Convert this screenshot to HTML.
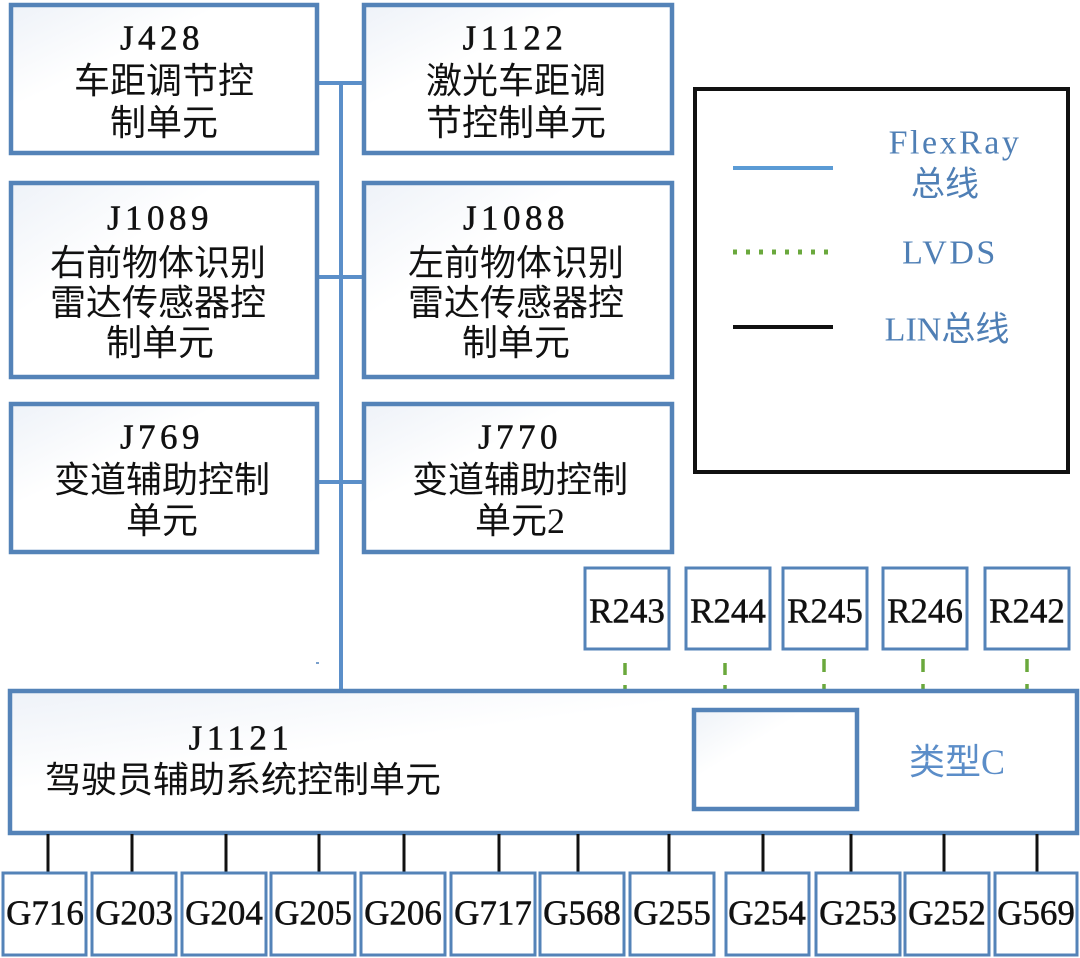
<!DOCTYPE html>
<html><head><meta charset="utf-8"><style>
html,body{margin:0;padding:0;background:#fff;}
svg{display:block;}
.t{font-family:"Liberation Serif","Noto Sans CJK SC",serif;font-size:35px;fill:#111;stroke:#111;stroke-width:0.5;text-anchor:middle;dominant-baseline:central;}
.c{font-family:"Liberation Serif","Noto Sans CJK SC",sans-serif;font-size:36px;fill:#111;text-anchor:middle;dominant-baseline:central;}
.lat{letter-spacing:4.5px;}
.b{fill:url(#g);stroke:#5483b8;stroke-width:4.5;}
.s{fill:#fff;stroke:#5483b8;stroke-width:3;}
.lg{font-family:"Liberation Serif","Noto Sans CJK SC",serif;font-size:34px;fill:#4f7fb5;text-anchor:middle;dominant-baseline:central;}
.bl{stroke:#111;stroke-width:3;}
.gr{stroke:#6aa83c;stroke-width:3.5;}
</style></head><body>
<svg width="1080" height="958" viewBox="0 0 1080 958" xmlns="http://www.w3.org/2000/svg">
<defs>
<linearGradient id="g" x1="0" y1="0" x2="1" y2="1">
<stop offset="0" stop-color="#eef2f8"/><stop offset="0.35" stop-color="#ffffff"/><stop offset="1" stop-color="#ffffff"/>
</linearGradient>
</defs>
<!-- bus -->
<g stroke="#5b8fc9" stroke-width="4">
<line x1="341" y1="83" x2="341" y2="692"/>
<line x1="317" y1="83" x2="364" y2="83"/>
<line x1="317" y1="277" x2="364" y2="277"/>
<line x1="317" y1="482" x2="364" y2="482"/>
</g>
<rect x="316" y="662" width="3" height="2" fill="#7aa0cc"/>
<!-- J boxes -->
<rect class="b" x="11" y="5" width="306" height="148"/>
<text class="t lat" x="162" y="38">J428</text>
<text class="c" x="164" y="81">车距调节控</text>
<text class="c" x="164" y="123">制单元</text>

<rect class="b" x="364" y="5" width="308" height="148"/>
<text class="t lat" x="515" y="38">J1122</text>
<text class="c" x="516" y="81">激光车距调</text>
<text class="c" x="516" y="123">节控制单元</text>

<rect class="b" x="11" y="183" width="306" height="194"/>
<text class="t lat" x="160" y="218">J1089</text>
<text class="c" x="158" y="263">右前物体识别</text>
<text class="c" x="158" y="303">雷达传感器控</text>
<text class="c" x="160" y="343">制单元</text>

<rect class="b" x="364" y="183" width="308" height="194"/>
<text class="t lat" x="516" y="218">J1088</text>
<text class="c" x="516" y="263">左前物体识别</text>
<text class="c" x="516" y="303">雷达传感器控</text>
<text class="c" x="516" y="343">制单元</text>

<rect class="b" x="11" y="404" width="306" height="148"/>
<text class="t lat" x="162" y="437">J769</text>
<text class="c" x="162" y="480">变道辅助控制</text>
<text class="c" x="162" y="521">单元</text>

<rect class="b" x="364" y="404" width="308" height="148"/>
<text class="t lat" x="520" y="437">J770</text>
<text class="c" x="520" y="480">变道辅助控制</text>
<text class="c" x="520" y="521">单元2</text>

<!-- legend -->
<rect x="695" y="89" width="373" height="383" fill="#fff" stroke="#111" stroke-width="4"/>
<line x1="733" y1="168" x2="833" y2="168" stroke="#5b9bd5" stroke-width="4"/>
<text class="lg" x="955" y="143" style="letter-spacing:2.5px">FlexRay</text>
<text class="lg" x="945" y="185">总线</text>
<line x1="733" y1="252" x2="833" y2="252" stroke="#6aa83c" stroke-width="5" stroke-dasharray="4 9"/>
<text class="lg" x="950" y="253" style="letter-spacing:2.5px">LVDS</text>
<line x1="733" y1="327" x2="833" y2="327" stroke="#111" stroke-width="4"/>
<text class="lg" x="947" y="330">LIN总线</text>

<!-- R boxes -->
<rect class="s" x="585" y="568" width="84" height="81"/><text class="t" x="627" y="611">R243</text>
<rect class="s" x="686" y="568" width="84" height="81"/><text class="t" x="728" y="611">R244</text>
<rect class="s" x="783" y="568" width="84" height="81"/><text class="t" x="825" y="611">R245</text>
<rect class="s" x="883" y="568" width="84" height="81"/><text class="t" x="925" y="611">R246</text>
<rect class="s" x="985" y="568" width="84" height="81"/><text class="t" x="1027" y="611">R242</text>

<!-- LVDS connectors -->
<g class="gr">
<line x1="625" y1="663" x2="625" y2="675"/><line x1="625" y1="685" x2="625" y2="692"/>
<line x1="725" y1="663" x2="725" y2="675"/><line x1="725" y1="685" x2="725" y2="692"/>
<line x1="824" y1="659" x2="824" y2="672"/><line x1="824" y1="684" x2="824" y2="692"/>
<line x1="923" y1="659" x2="923" y2="672"/><line x1="923" y1="684" x2="923" y2="692"/>
<line x1="1027" y1="659" x2="1027" y2="672"/><line x1="1027" y1="684" x2="1027" y2="692"/>
</g>

<!-- J1121 -->
<rect class="b" x="10" y="691" width="1067" height="142"/>
<text class="t lat" x="241" y="738">J1121</text>
<text class="c" x="243" y="780">驾驶员辅助系统控制单元</text>
<rect class="b" x="694" y="710" width="163" height="99"/>
<text class="lg" x="957" y="762" style="font-size:36px;fill:#5b8dc8">类型C</text>

<!-- LIN lines -->
<g class="bl">
<line x1="48" y1="834" x2="48" y2="873"/>
<line x1="132" y1="834" x2="132" y2="873"/>
<line x1="226" y1="834" x2="226" y2="873"/>
<line x1="319" y1="834" x2="319" y2="873"/>
<line x1="404" y1="834" x2="404" y2="873"/>
<line x1="499" y1="834" x2="499" y2="873"/>
<line x1="578" y1="834" x2="578" y2="873"/>
<line x1="669" y1="834" x2="669" y2="873"/>
<line x1="763" y1="834" x2="763" y2="873"/>
<line x1="851" y1="834" x2="851" y2="873"/>
<line x1="944" y1="834" x2="944" y2="873"/>
<line x1="1037" y1="834" x2="1037" y2="873"/>
</g>

<!-- G boxes -->
<rect class="s" x="3" y="873" width="83" height="82"/><text class="t" x="45" y="913">G716</text>
<rect class="s" x="92" y="873" width="84" height="82"/><text class="t" x="134" y="913">G203</text>
<rect class="s" x="182" y="873" width="84" height="82"/><text class="t" x="224" y="913">G204</text>
<rect class="s" x="271" y="873" width="84" height="82"/><text class="t" x="313" y="913">G205</text>
<rect class="s" x="361" y="873" width="84" height="82"/><text class="t" x="403" y="913">G206</text>
<rect class="s" x="451" y="873" width="84" height="82"/><text class="t" x="493" y="913">G717</text>
<rect class="s" x="540" y="873" width="84" height="82"/><text class="t" x="582" y="913">G568</text>
<rect class="s" x="630" y="873" width="84" height="82"/><text class="t" x="672" y="913">G255</text>
<rect class="s" x="726" y="873" width="83" height="82"/><text class="t" x="767" y="913">G254</text>
<rect class="s" x="816" y="873" width="84" height="82"/><text class="t" x="858" y="913">G253</text>
<rect class="s" x="905" y="873" width="84" height="82"/><text class="t" x="947" y="913">G252</text>
<rect class="s" x="995" y="873" width="82" height="82"/><text class="t" x="1036" y="913">G569</text>
</svg>
</body></html>
